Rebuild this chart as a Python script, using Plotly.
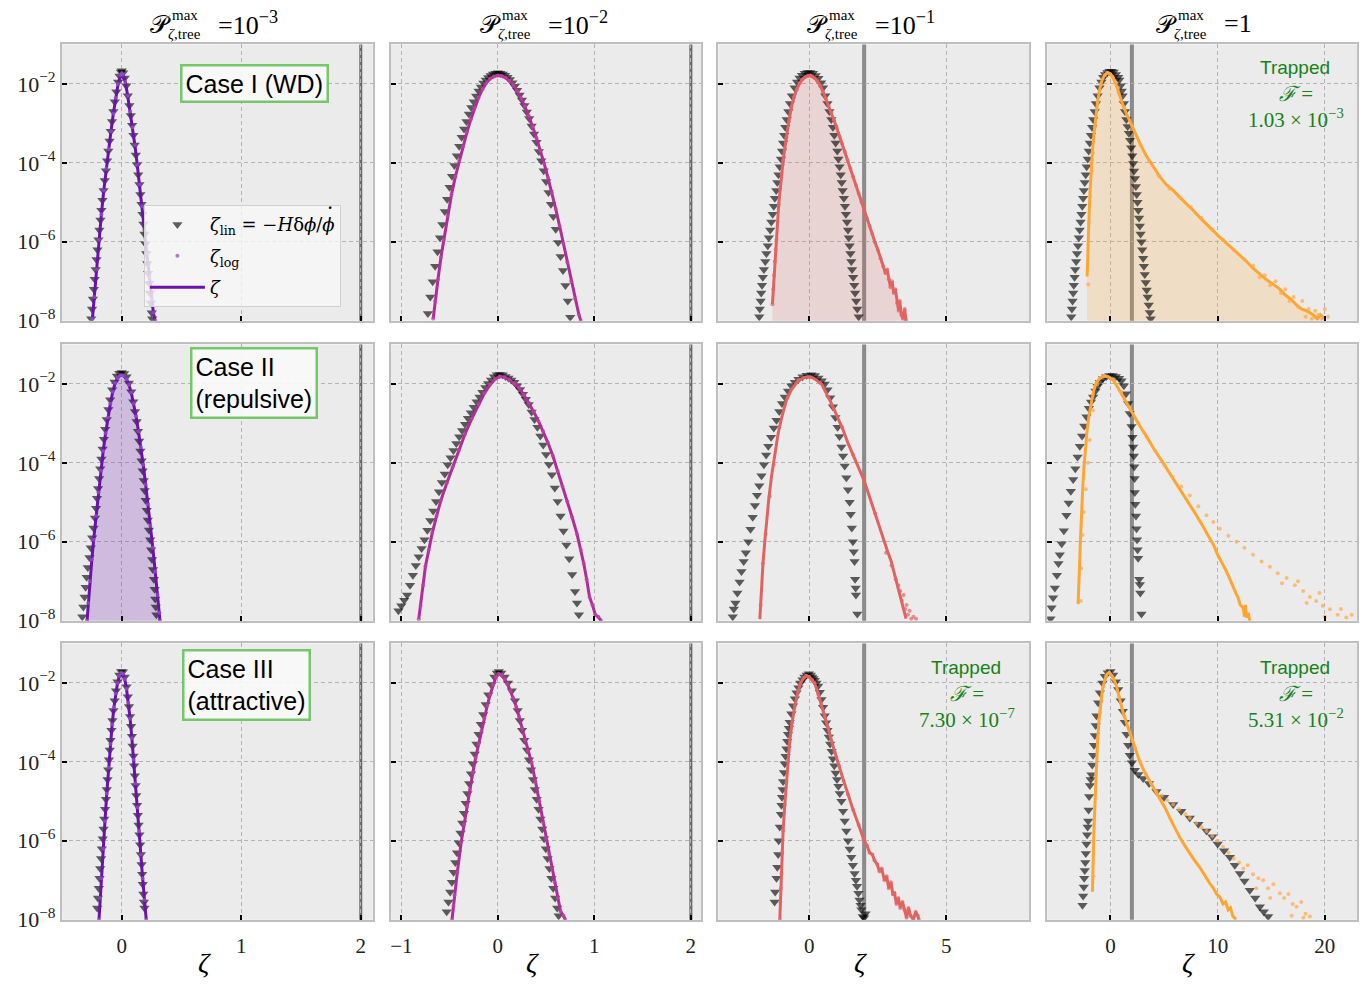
import plotly.graph_objects as go
from plotly.subplots import make_subplots

FIG_W, FIG_H = 1366, 988

# ---------------- axis / label content ----------------
p_tree_labels = ["10<sup>−3</sup>", "10<sup>−2</sup>", "10<sup>−1</sup>", "1"]
zeta_c = 2.0
x_tick_vals = [[0, 1, 2], [-1, 0, 1, 2], [0, 5], [0, 10, 20]]
x_tick_text = [["0", "1", "2"], ["−1", "0", "1", "2"], ["0", "5"], ["0", "10", "20"]]
x_ranges = [[-0.5, 2.1], [-1.11, 2.11], [-3.32, 8.03], [-5.9, 23.0]]
y_tick_vals = [1e-8, 1e-6, 1e-4, 1e-2]
y_tick_text = ["10<sup>−8</sup>", "10<sup>−6</sup>", "10<sup>−4</sup>", "10<sup>−2</sup>"]
case_labels = ["Case I (WD)", "Case II<br>(repulsive)", "Case III<br>(attractive)"]
trapped_fraction = {(1, 4): "1.03 × 10<sup>−3</sup>",
                    (3, 3): "7.30 × 10<sup>−7</sup>",
                    (3, 4): "5.31 × 10<sup>−2</sup>"}
legend_names = {"lin": "<i>ζ</i><sub>lin</sub> = −<i>H</i>δ<i>ϕ</i>/<i>ϕ</i>",
                "log": "<i>ζ</i><sub>log</sub>",
                "zeta": "<i>ζ</i>"}

# ---------------- data: zeta values and log10 of the PDF ----------------
# Row 1 (Case I), column 1
tri_z_r1c1 = [-0.255, -0.248, -0.241, -0.233, -0.226, -0.218, -0.211, -0.203, -0.195, -0.187, -0.178, -0.170, -0.161, -0.152, -0.142, -0.132, -0.122, -0.112, -0.102, -0.092, -0.081, -0.070, -0.058, -0.045, -0.030, -0.018, -0.007, 0.0, 0.012, 0.025, 0.038, 0.051, 0.064, 0.076, 0.087, 0.098, 0.108, 0.118, 0.128, 0.138, 0.148, 0.156, 0.165, 0.174, 0.182, 0.190, 0.198, 0.206, 0.214, 0.221, 0.229, 0.236, 0.244, 0.251, 0.255]
tri_lg_r1c1 = [-7.95, -7.7, -7.45, -7.2, -6.95, -6.7, -6.45, -6.2, -5.95, -5.7, -5.45, -5.2, -4.95, -4.7, -4.45, -4.2, -3.95, -3.7, -3.45, -3.2, -2.95, -2.7, -2.45, -2.2, -1.95, -1.8, -1.7, -1.67, -1.72, -1.85, -2.05, -2.3, -2.55, -2.8, -3.05, -3.3, -3.55, -3.8, -4.05, -4.3, -4.55, -4.8, -5.05, -5.3, -5.55, -5.8, -6.05, -6.3, -6.55, -6.8, -7.05, -7.3, -7.55, -7.8, -7.95]
zeta_z_r1c1 = [-0.245, -0.23, -0.21, -0.19, -0.17, -0.15, -0.13, -0.11, -0.09, -0.07, -0.05, -0.03, -0.01, 0.0, 0.01, 0.03, 0.05, 0.07, 0.09, 0.11, 0.13, 0.15, 0.17, 0.19, 0.21, 0.23, 0.25, 0.265, 0.28]
zeta_lg_r1c1 = [-7.95, -7.4, -6.7, -5.95, -5.3, -4.7, -4.15, -3.65, -3.2, -2.75, -2.35, -2.0, -1.78, -1.73, -1.76, -1.95, -2.3, -2.7, -3.1, -3.55, -4.05, -4.55, -5.1, -5.7, -6.3, -6.9, -7.45, -7.8, -8.0]

# Row 1, column 2
tri_z_r1c2 = [-0.725, -0.7, -0.675, -0.65, -0.625, -0.6, -0.575, -0.55, -0.525, -0.5, -0.475, -0.45, -0.425, -0.4, -0.375, -0.35, -0.325, -0.3, -0.275, -0.25, -0.225, -0.2, -0.175, -0.15, -0.125, -0.1, -0.075, -0.05, -0.025, 0.0,
              0.025, 0.05, 0.075, 0.1, 0.125, 0.15, 0.175, 0.2, 0.225, 0.25, 0.275, 0.3, 0.325, 0.35, 0.375, 0.4, 0.425, 0.45, 0.475, 0.5, 0.525, 0.55, 0.575, 0.6, 0.625, 0.65, 0.675, 0.7, 0.725, 0.75]
tri_lg_r1c2 = [-7.82, -7.40, -7.01, -6.62, -6.25, -5.90, -5.56, -5.23, -4.92, -4.62, -4.34, -4.07, -3.82, -3.58, -3.35, -3.14, -2.95, -2.76, -2.60, -2.45, -2.31, -2.18, -2.08, -1.98, -1.90, -1.84, -1.79, -1.75, -1.73, -1.72,
               -1.73, -1.75, -1.78, -1.83, -1.89, -1.97, -2.06, -2.16, -2.28, -2.41, -2.55, -2.71, -2.88, -3.07, -3.27, -3.48, -3.71, -3.95, -4.20, -4.47, -4.75, -5.05, -5.36, -5.68, -6.02, -6.37, -6.73, -7.11, -7.50, -7.91]
zeta_z_r1c2 = [-0.67, -0.65, -0.62, -0.59, -0.56, -0.52, -0.48, -0.44, -0.40, -0.36, -0.32, -0.28, -0.24, -0.20, -0.16, -0.12, -0.08, -0.04, 0.0, 0.04, 0.08, 0.12, 0.16, 0.20, 0.24, 0.28, 0.32, 0.36, 0.40, 0.44, 0.48, 0.52, 0.56, 0.60, 0.64, 0.68, 0.72, 0.76, 0.80, 0.84, 0.86]
zeta_lg_r1c2 = [-7.95, -7.5, -6.95, -6.4, -5.95, -5.35, -4.8, -4.35, -3.95, -3.58, -3.22, -2.9, -2.6, -2.35, -2.14, -1.98, -1.87, -1.81, -1.79, -1.8, -1.84, -1.92, -2.03, -2.18, -2.36, -2.57, -2.81, -3.08, -3.37, -3.68, -4.02, -4.38, -4.76, -5.17, -5.6, -6.05, -6.52, -7.0, -7.45, -7.85, -8.0]

# Row 1, column 3
tri_z_r1c3 = [-1.83, -1.81, -1.78, -1.76, -1.73, -1.70, -1.66, -1.61, -1.57, -1.52, -1.48, -1.43, -1.39, -1.34, -1.30, -1.26, -1.21, -1.17, -1.13, -1.085, -1.04, -1.0, -0.96, -0.92, -0.88, -0.83, -0.77, -0.71, -0.64, -0.54, -0.45, -0.36, -0.27, -0.17, -0.07, 0.03,
              0.13, 0.23, 0.33, 0.43, 0.5, 0.58, 0.66, 0.73, 0.80, 0.86, 0.91, 0.96, 1.02, 1.06, 1.10, 1.145, 1.18, 1.215, 1.26, 1.30, 1.335, 1.375, 1.41, 1.44, 1.47, 1.50, 1.53, 1.56, 1.60, 1.64, 1.67, 1.71, 1.75, 1.80]
tri_lg_r1c3 = [-7.9, -7.7, -7.5, -7.3, -7.1, -6.9, -6.7, -6.5, -6.3, -6.1, -5.9, -5.7, -5.5, -5.3, -5.1, -4.9, -4.7, -4.5, -4.3, -4.1, -3.9, -3.7, -3.5, -3.3, -3.1, -2.9, -2.7, -2.5, -2.3, -2.1, -1.95, -1.85, -1.78, -1.73, -1.71, -1.71,
               -1.73, -1.79, -1.86, -1.97, -2.1, -2.3, -2.5, -2.7, -2.9, -3.1, -3.3, -3.5, -3.7, -3.9, -4.1, -4.3, -4.5, -4.7, -4.9, -5.1, -5.3, -5.5, -5.7, -5.9, -6.1, -6.3, -6.5, -6.7, -6.9, -7.1, -7.3, -7.5, -7.7, -7.9]
zeta_z_r1c3 = [-1.35, -1.32, -1.29, -1.26, -1.23, -1.20, -1.16, -1.12, -1.07, -1.02, -0.96, -0.90, -0.84, -0.75, -0.66, -0.56, -0.46, -0.36, -0.26, -0.16, -0.06, 0.04, 0.1, 0.2, 0.3, 0.4, 0.5, 0.6, 0.7, 0.8, 0.9, 1.0, 1.1, 1.2, 1.3, 1.4, 1.5, 1.6, 1.7, 1.8, 1.9, 2.0, 2.1, 2.2, 2.3, 2.4, 2.5, 2.6, 2.7, 2.78, 2.84, 2.9, 2.96, 3.02, 3.08, 3.14, 3.2, 3.26, 3.3, 3.36, 3.42, 3.48, 3.53]
zeta_lg_r1c3 = [-7.58, -7.2, -6.85, -6.5, -6.2, -5.95, -5.5, -5.05, -4.65, -4.3, -3.95, -3.65, -3.35, -2.95, -2.6, -2.33, -2.14, -1.99, -1.89, -1.83, -1.8, -1.79, -1.81, -1.86, -1.94, -2.05, -2.2, -2.37, -2.55, -2.72, -2.92, -3.12, -3.33, -3.52, -3.72, -3.93, -4.14, -4.35, -4.56, -4.78, -4.99, -5.2, -5.4, -5.6, -5.8, -6.02, -6.2, -6.42, -6.62, -6.8, -6.7, -6.95, -7.15, -7.0, -7.3, -7.2, -7.55, -7.75, -7.5, -7.85, -7.95, -7.7, -8.0]

# Row 1, column 4
tri_z_r1c4 = [-3.66, -3.6, -3.54, -3.48, -3.42, -3.35, -3.29, -3.2, -3.12, -3.03, -2.95, -2.87, -2.79, -2.71, -2.63, -2.55, -2.48, -2.4, -2.31, -2.22, -2.12, -2.03, -1.93, -1.83, -1.72, -1.61, -1.48, -1.36, -1.2, -1.03, -0.85, -0.68, -0.5, -0.3, -0.1, 0.1,
              0.3, 0.5, 0.72, 0.82, 0.95, 1.05, 1.13, 1.25, 1.36, 1.48, 1.6, 1.72, 1.83, 1.93, 2.03, 2.12, 2.2, 2.28, 2.37, 2.45, 2.52, 2.6, 2.67, 2.74, 2.81, 2.89, 2.96, 3.05, 3.12, 3.2, 3.29, 3.38, 3.47, 3.57, 3.67, 3.75]
tri_lg_r1c4 = [-7.9, -7.7, -7.5, -7.3, -7.1, -6.9, -6.7, -6.5, -6.3, -6.1, -5.9, -5.7, -5.5, -5.3, -5.1, -4.9, -4.7, -4.5, -4.3, -4.1, -3.9, -3.7, -3.5, -3.3, -3.1, -2.9, -2.7, -2.5, -2.3, -2.1, -1.95, -1.83, -1.76, -1.71, -1.68, -1.68,
               -1.7, -1.76, -1.83, -1.9, -2.05, -2.18, -2.3, -2.5, -2.7, -2.9, -3.08, -3.25, -3.43, -3.62, -3.82, -4.02, -4.21, -4.4, -4.6, -4.8, -5.0, -5.2, -5.4, -5.6, -5.8, -6.0, -6.2, -6.42, -6.62, -6.83, -7.03, -7.22, -7.4, -7.6, -7.79, -7.95]
zeta_z_r1c4 = [-2.18, -2.15, -2.1, -2.05, -1.98, -1.9, -1.8, -1.68, -1.55, -1.4, -1.25, -1.05, -0.84, -0.6, -0.31, 0.0, 0.25, 0.5, 0.87, 1.2, 1.49, 2.02, 2.4, 2.74, 3.3, 3.98, 4.6, 5.2, 5.85, 6.5, 7.1, 7.71, 8.4, 9.2, 10.0, 10.7, 11.4, 12.07, 12.7, 13.3, 13.93, 14.5, 15.2, 15.8, 16.3, 16.8, 17.36, 17.8, 18.3, 18.9, 19.3, 19.6, 20.0]
zeta_lg_r1c4 = [-6.88, -6.5, -6.1, -5.7, -5.2, -4.7, -4.2, -3.7, -3.3, -2.9, -2.55, -2.2, -1.95, -1.8, -1.71, -1.74, -1.85, -2.0, -2.33, -2.57, -2.75, -3.08, -3.3, -3.5, -3.8, -4.08, -4.35, -4.55, -4.7, -4.88, -5.03, -5.2, -5.4, -5.62, -5.83, -6.0, -6.17, -6.33, -6.5, -6.67, -6.83, -6.95, -7.08, -7.2, -7.35, -7.45, -7.6, -7.7, -7.75, -7.85, -7.95, -7.85, -7.95]
log_z_r1c4 = [-2.08, -2.0, -1.9, -1.75, -1.62, -1.45, -1.2, -0.9, -0.5, -0.2, 0.2, 0.7, 1.3, 2.0, 2.8, 3.6, 4.5, 5.5, 6.5, 7.5, 8.5, 9.5, 10.5, 11.5, 12.5, 13.3, 13.9, 14.4, 14.9, 15.4, 15.9, 16.3, 16.7, 17.1, 17.5, 17.9, 18.2, 18.5, 18.8, 19.1, 19.4, 19.7, 20.0, 20.3]
log_lg_r1c4 = [-7.08, -5.5, -4.85, -4.2, -3.75, -3.1, -2.45, -2.0, -1.78, -1.73, -1.82, -2.1, -2.6, -3.05, -3.55, -3.95, -4.33, -4.65, -4.88, -5.12, -5.4, -5.68, -5.95, -6.2, -6.45, -6.6, -6.9, -6.85, -7.1, -7.0, -7.3, -7.2, -7.5, -7.4, -7.65, -7.5, -7.9, -7.7, -7.95, -7.75, -7.85, -7.95, -7.7, -7.9]

# Row 2 (Case II), column 1
tri_z_r2c1 = [-0.330, -0.321, -0.311, -0.302, -0.293, -0.284, -0.270, -0.259, -0.247, -0.236, -0.224, -0.215, -0.207, -0.198, -0.189, -0.180, -0.170, -0.160, -0.149, -0.138, -0.125, -0.112, -0.097, -0.080, -0.060, -0.040, -0.020, 0.0,
              0.02, 0.04, 0.06, 0.08, 0.097, 0.111, 0.125, 0.136, 0.146, 0.156, 0.166, 0.175, 0.184, 0.192, 0.200, 0.209, 0.218, 0.228, 0.238, 0.246, 0.254, 0.261, 0.269, 0.275, 0.280, 0.285, 0.290]
tri_lg_r2c1 = [-7.9, -7.65, -7.4, -7.15, -6.9, -6.65, -6.4, -6.15, -5.9, -5.65, -5.4, -5.15, -4.9, -4.65, -4.4, -4.15, -3.9, -3.65, -3.4, -3.15, -2.9, -2.65, -2.4, -2.15, -1.95, -1.8, -1.73, -1.71,
               -1.74, -1.82, -1.98, -2.2, -2.45, -2.7, -2.95, -3.2, -3.45, -3.7, -3.95, -4.2, -4.45, -4.7, -4.95, -5.2, -5.45, -5.7, -5.95, -6.2, -6.45, -6.7, -6.95, -7.2, -7.45, -7.65, -7.85]
zeta_z_r2c1 = [-0.29, -0.28, -0.265, -0.25, -0.235, -0.215, -0.195, -0.175, -0.155, -0.135, -0.115, -0.095, -0.075, -0.055, -0.035, -0.015, 0.0, 0.02, 0.04, 0.06, 0.08, 0.10, 0.12, 0.14, 0.16, 0.18, 0.20, 0.22, 0.24, 0.26, 0.28, 0.30, 0.315, 0.32]
zeta_lg_r2c1 = [-8.0, -7.55, -7.0, -6.45, -5.95, -5.35, -4.75, -4.2, -3.7, -3.25, -2.85, -2.5, -2.2, -1.98, -1.85, -1.79, -1.78, -1.8, -1.88, -2.02, -2.22, -2.5, -2.82, -3.2, -3.6, -4.05, -4.55, -5.05, -5.6, -6.15, -6.75, -7.35, -7.8, -8.0]

# Row 2, column 2
tri_z_r2c2 = [-1.03, -1.0, -0.97, -0.94, -0.91, -0.88, -0.85, -0.82, -0.79, -0.76, -0.73, -0.70, -0.67, -0.64, -0.61, -0.58, -0.55, -0.52, -0.49, -0.46, -0.43, -0.40, -0.37, -0.34, -0.31, -0.28, -0.25, -0.22, -0.19, -0.16, -0.13, -0.10, -0.07, -0.04, -0.01,
              0.02, 0.05, 0.08, 0.11, 0.14, 0.17, 0.20, 0.23, 0.26, 0.29, 0.32, 0.35, 0.38, 0.41, 0.44, 0.47, 0.50, 0.53, 0.56, 0.59, 0.62, 0.65, 0.68, 0.71, 0.74, 0.77, 0.80, 0.82, 0.84]
tri_lg_r2c2 = [-7.75, -7.62, -7.48, -7.35, -7.1, -6.85, -6.6, -6.38, -6.17, -5.95, -5.71, -5.46, -5.22, -4.98, -4.73, -4.5, -4.28, -4.05, -3.87, -3.69, -3.51, -3.34, -3.18, -3.02, -2.87, -2.73, -2.59, -2.45, -2.33, -2.21, -2.09, -1.99, -1.9, -1.82, -1.77,
               -1.76, -1.77, -1.81, -1.85, -1.9, -1.96, -2.05, -2.14, -2.26, -2.39, -2.52, -2.71, -2.9, -3.1, -3.32, -3.55, -3.79, -4.04, -4.3, -4.64, -4.98, -5.35, -5.73, -6.08, -6.43, -6.83, -7.26, -7.55, -7.85]
zeta_z_r2c2 = [-0.82, -0.80, -0.775, -0.75, -0.715, -0.68, -0.635, -0.59, -0.53, -0.47, -0.405, -0.34, -0.27, -0.20, -0.14, -0.08, -0.03, 0.02, 0.07, 0.12, 0.17, 0.22, 0.27, 0.32, 0.37, 0.42, 0.47, 0.52, 0.57, 0.62, 0.67, 0.72, 0.77, 0.82, 0.86, 0.89, 0.92, 0.95, 0.98, 1.01, 1.04, 1.07]
zeta_lg_r2c2 = [-7.96, -7.62, -7.1, -6.62, -6.2, -5.78, -5.35, -4.95, -4.52, -4.11, -3.68, -3.27, -2.88, -2.52, -2.24, -2.02, -1.88, -1.81, -1.83, -1.9, -1.99, -2.1, -2.28, -2.48, -2.7, -2.94, -3.2, -3.5, -3.82, -4.2, -4.6, -4.98, -5.38, -5.8, -6.2, -6.55, -6.95, -7.4, -7.6, -7.85, -7.9, -8.0]

# Row 2, column 3
tri_z_r2c3 = [-2.8, -2.76, -2.7, -2.63, -2.55, -2.48, -2.4, -2.32, -2.23, -2.15, -2.07, -1.99, -1.91, -1.83, -1.75, -1.66, -1.58, -1.5, -1.4, -1.3, -1.2, -1.1, -1.0, -0.9, -0.78, -0.66, -0.53, -0.4, -0.25, -0.1, 0.07, 0.2, 0.33, 0.45, 0.56, 0.66, 0.76, 0.86, 0.95, 1.03, 1.1, 1.17, 1.23, 1.29, 1.35, 1.41, 1.47, 1.51, 1.55, 1.59, 1.62, 1.65, 1.67, 1.69, 1.7, 1.75]
tri_lg_r2c3 = [-7.9, -7.7, -7.55, -7.3, -7.02, -6.75, -6.5, -6.28, -6.0, -5.68, -5.38, -5.08, -4.82, -4.58, -4.33, -4.05, -3.8, -3.58, -3.35, -3.12, -2.92, -2.7, -2.5, -2.33, -2.18, -2.05, -1.96, -1.88, -1.82, -1.78, -1.77, -1.79, -1.85, -1.92, -2.0, -2.15, -2.35, -2.58, -2.85, -3.1, -3.33, -3.6, -3.83, -4.08, -4.38, -4.68, -5.0, -5.3, -5.65, -6.0, -6.25, -6.5, -6.95, -7.17, -7.35, -7.83]
zeta_z_r2c3 = [-1.81, -1.79, -1.77, -1.73, -1.69, -1.63, -1.57, -1.48, -1.38, -1.26, -1.14, -1.0, -0.84, -0.66, -0.41, -0.2, -0.05, 0.1, 0.25, 0.44, 0.6, 0.76, 0.92, 1.08, 1.25, 1.41, 1.6, 1.8, 1.98, 2.12, 2.25, 2.38, 2.5, 2.62, 2.74, 2.86, 2.99, 3.1, 3.23, 3.3, 3.36, 3.41, 3.45, 3.5, 3.53]
zeta_lg_r2c3 = [-7.96, -7.7, -7.42, -6.95, -6.5, -6.0, -5.5, -4.9, -4.33, -3.75, -3.25, -2.82, -2.42, -2.15, -1.92, -1.84, -1.82, -1.84, -1.9, -2.0, -2.2, -2.43, -2.67, -2.92, -3.2, -3.5, -3.8, -4.12, -4.42, -4.7, -4.98, -5.25, -5.5, -5.75, -6.0, -6.25, -6.5, -6.8, -7.08, -7.3, -7.45, -7.58, -7.75, -7.85, -7.95]
log_z_r2c3 = [-1.78, -1.7, -1.6, -1.45, -1.3, -1.1, -0.8, -0.4, 0.0, 0.4, 0.8, 1.2, 1.6, 2.0, 2.4, 2.8, 3.0, 3.15, 3.25, 3.32, 3.38, 3.44, 3.5, 3.55, 3.6, 3.66, 3.72, 3.8, 3.9]
log_lg_r2c3 = [-7.6, -6.55, -5.8, -4.85, -4.05, -3.1, -2.35, -1.9, -1.83, -1.98, -2.52, -3.1, -3.8, -4.45, -5.28, -6.28, -6.6, -6.95, -7.1, -7.25, -7.5, -7.35, -7.7, -7.6, -7.85, -7.75, -7.95, -7.9, -7.95]

# Row 2, column 4
tri_z_r2c4 = [-5.6, -5.5, -5.35, -5.19, -5.0, -4.85, -4.73, -4.55, -4.35, -4.11, -3.9, -3.7, -3.48, -3.28, -3.07, -2.86, -2.65, -2.45, -2.24, -2.02, -1.82, -1.62, -1.4, -1.2, -0.99, -0.7, -0.4, -0.1, 0.2, 0.5, 0.8, 1.03, 1.25, 1.45, 1.65, 1.8, 1.96, 2.05, 2.12, 2.18, 2.22, 2.25, 2.27, 2.32, 2.38, 2.43, 2.48, 2.53, 2.58, 2.68, 2.74, 2.78, 2.89]
tri_lg_r2c4 = [-7.95, -7.67, -7.42, -7.17, -6.85, -6.55, -6.33, -6.05, -5.72, -5.33, -5.02, -4.72, -4.42, -4.15, -3.85, -3.58, -3.32, -3.07, -2.83, -2.62, -2.46, -2.33, -2.18, -2.06, -1.96, -1.87, -1.82, -1.79, -1.79, -1.81, -1.86, -1.92, -2.05, -2.25, -2.5, -2.75, -3.08, -3.35, -3.6, -3.83, -4.1, -4.4, -4.75, -5.05, -5.35, -5.67, -5.95, -6.2, -6.42, -6.95, -7.08, -7.3, -7.83]
zeta_z_r2c4 = [-3.02, -2.98, -2.93, -2.86, -2.8, -2.71, -2.6, -2.49, -2.35, -2.18, -2.0, -1.77, -1.55, -1.31, -1.0, -0.75, -0.53, -0.2, 0.25, 0.7, 1.18, 1.6, 2.02, 2.7, 3.36, 4.1, 4.91, 5.7, 6.47, 7.25, 8.02, 8.65, 9.27, 9.65, 10.0, 10.4, 10.82, 11.15, 11.45, 11.7, 11.91, 12.1, 12.38, 12.5, 12.6, 12.69, 12.85, 13.0]
zeta_lg_r2c4 = [-7.58, -7.1, -6.8, -6.42, -5.95, -5.25, -4.7, -4.17, -3.65, -3.17, -2.8, -2.42, -2.15, -1.96, -1.86, -1.82, -1.81, -1.82, -1.9, -2.1, -2.33, -2.55, -2.75, -3.05, -3.33, -3.67, -4.0, -4.33, -4.67, -5.0, -5.33, -5.62, -5.92, -6.1, -6.33, -6.52, -6.75, -6.95, -7.17, -7.3, -7.42, -7.6, -7.67, -7.9, -7.6, -7.92, -7.8, -8.0]
log_z_r2c4 = [-2.77, -2.74, -2.61, -2.49, -2.3, -2.1, -1.93, -1.62, -1.2, -0.5, 0.3, 1.0, 1.8, 2.6, 3.4, 4.2, 5.0, 5.8, 6.6, 7.4, 8.2, 8.96, 9.6, 10.2, 11.0, 11.76, 12.5, 13.3, 14.1, 14.87, 15.6, 16.0, 16.43, 17.2, 17.5, 17.98, 18.3, 18.6, 19.2, 19.5, 19.8, 20.0, 20.47, 21.2, 21.5, 22.0, 22.5]
log_lg_r2c4 = [-7.5, -6.67, -5.83, -5.25, -4.67, -4.0, -3.42, -2.67, -2.0, -1.8, -1.88, -2.2, -2.6, -3.0, -3.35, -3.7, -4.05, -4.35, -4.6, -4.83, -5.1, -5.33, -5.5, -5.67, -5.85, -6.0, -6.15, -6.33, -6.5, -6.63, -6.8, -7.05, -6.92, -7.1, -7.0, -7.25, -7.55, -7.4, -7.5, -7.3, -7.62, -7.9, -7.71, -7.85, -7.7, -7.92, -7.85]

# Row 3 (Case III), column 1
tri_z_r3c1 = [-0.205, -0.199, -0.192, -0.186, -0.180, -0.173, -0.166, -0.159, -0.152, -0.146, -0.139, -0.132, -0.125, -0.119, -0.113, -0.107, -0.100, -0.094, -0.086, -0.078, -0.069, -0.059, -0.048, -0.035, -0.02, -0.005,
              0.01, 0.025, 0.04, 0.051, 0.061, 0.07, 0.078, 0.085, 0.091, 0.098, 0.104, 0.110, 0.116, 0.122, 0.129, 0.135, 0.141, 0.148, 0.154, 0.160, 0.166, 0.171, 0.176, 0.181, 0.186, 0.19]
tri_lg_r3c1 = [-7.7, -7.45, -7.2, -6.95, -6.7, -6.45, -6.2, -5.95, -5.7, -5.45, -5.2, -4.95, -4.7, -4.45, -4.2, -3.95, -3.7, -3.45, -3.2, -2.95, -2.7, -2.45, -2.2, -1.97, -1.8, -1.71,
               -1.72, -1.85, -2.1, -2.35, -2.6, -2.85, -3.1, -3.35, -3.6, -3.85, -4.1, -4.35, -4.6, -4.85, -5.1, -5.35, -5.6, -5.85, -6.1, -6.35, -6.6, -6.85, -7.1, -7.35, -7.55, -7.7]
zeta_z_r3c1 = [-0.19, -0.18, -0.17, -0.155, -0.14, -0.125, -0.11, -0.095, -0.08, -0.065, -0.05, -0.035, -0.02, -0.005, 0.01, 0.025, 0.04, 0.055, 0.07, 0.085, 0.10, 0.115, 0.13, 0.145, 0.16, 0.175, 0.19, 0.205]
zeta_lg_r3c1 = [-8.0, -7.45, -6.95, -6.2, -5.5, -4.8, -4.15, -3.55, -3.05, -2.62, -2.27, -2.0, -1.82, -1.75, -1.77, -1.9, -2.15, -2.5, -2.9, -3.4, -3.95, -4.55, -5.15, -5.75, -6.35, -6.95, -7.5, -8.0]

# Row 3, column 2
tri_z_r3c2 = [-0.53, -0.512, -0.494, -0.476, -0.459, -0.441, -0.423, -0.405, -0.387, -0.369, -0.351, -0.333, -0.315, -0.297, -0.279, -0.26, -0.240, -0.221, -0.2, -0.177, -0.152, -0.126, -0.099, -0.068, -0.036, -0.01, 0.01,
              0.035, 0.07, 0.105, 0.145, 0.178, 0.205, 0.228, 0.251, 0.274, 0.302, 0.323, 0.344, 0.364, 0.383, 0.403, 0.422, 0.441, 0.46, 0.479, 0.497, 0.515, 0.535, 0.554, 0.574, 0.594, 0.615, 0.63]
tri_lg_r3c2 = [-7.8, -7.55, -7.3, -7.05, -6.8, -6.55, -6.3, -6.05, -5.8, -5.55, -5.3, -5.05, -4.8, -4.55, -4.3, -4.05, -3.8, -3.55, -3.3, -3.05, -2.8, -2.55, -2.3, -2.05, -1.85, -1.75, -1.71,
               -1.75, -1.85, -2.0, -2.2, -2.45, -2.7, -2.95, -3.2, -3.45, -3.7, -3.95, -4.2, -4.45, -4.7, -4.95, -5.2, -5.45, -5.7, -5.95, -6.2, -6.45, -6.7, -6.95, -7.2, -7.45, -7.7, -7.9]
zeta_z_r3c2 = [-0.475, -0.46, -0.45, -0.42, -0.38, -0.35, -0.32, -0.29, -0.26, -0.23, -0.20, -0.17, -0.14, -0.11, -0.08, -0.05, -0.02, 0.01, 0.04, 0.07, 0.10, 0.13, 0.16, 0.19, 0.22, 0.25, 0.28, 0.31, 0.35, 0.39, 0.43, 0.47, 0.50, 0.53, 0.56, 0.59, 0.62, 0.65, 0.68, 0.70]
zeta_lg_r3c2 = [-8.0, -7.65, -7.38, -6.8, -6.04, -5.58, -5.12, -4.7, -4.28, -3.9, -3.55, -3.22, -2.9, -2.58, -2.3, -2.05, -1.85, -1.77, -1.8, -1.9, -2.03, -2.2, -2.38, -2.6, -2.86, -3.14, -3.44, -3.72, -4.03, -4.5, -5.0, -5.54, -5.95, -6.33, -6.71, -7.05, -7.45, -7.79, -7.9, -8.0]

# Row 3, column 3
tri_z_r3c3 = [-1.27, -1.25, -1.2, -1.17, -1.14, -1.12, -1.08, -1.04, -1.02, -1.0, -0.98, -0.96, -0.93, -0.9, -0.87, -0.84, -0.81, -0.78, -0.75, -0.72, -0.66, -0.6, -0.53, -0.47, -0.4, -0.33, -0.25, -0.18, -0.1, -0.02,
              0.05, 0.1, 0.15, 0.2, 0.26, 0.32, 0.38, 0.44, 0.5, 0.56, 0.61, 0.66, 0.71, 0.76, 0.81, 0.86, 0.91, 0.96, 1.01, 1.06, 1.11, 1.17, 1.23, 1.29, 1.35, 1.41, 1.47, 1.53, 1.59, 1.65, 1.7, 1.74, 1.79, 1.83, 1.87, 1.9, 1.95, 2.0, 2.05]
tri_lg_r3c3 = [-7.55, -7.3, -6.95, -6.67, -6.35, -6.0, -5.65, -5.33, -5.1, -4.9, -4.7, -4.5, -4.27, -4.05, -3.86, -3.67, -3.48, -3.3, -3.15, -3.0, -2.78, -2.58, -2.4, -2.25, -2.12, -2.0, -1.92, -1.85, -1.8, -1.77,
               -1.8, -1.85, -1.89, -1.93, -2.0, -2.08, -2.24, -2.42, -2.62, -2.83, -3.01, -3.2, -3.37, -3.55, -3.73, -3.92, -4.1, -4.28, -4.45, -4.62, -4.8, -5.0, -5.25, -5.5, -5.75, -6.0, -6.21, -6.42, -6.62, -6.83, -7.0, -7.15, -7.33, -7.5, -7.63, -7.75, -7.92, -7.95, -7.85]
zeta_z_r3c3 = [-1.08, -1.06, -1.04, -1.02, -0.99, -0.96, -0.9, -0.84, -0.78, -0.72, -0.63, -0.53, -0.42, -0.32, -0.2, -0.11, 0.0, 0.1, 0.19, 0.32, 0.44, 0.56, 0.68, 0.8, 0.92, 1.08, 1.25, 1.41, 1.6, 1.8, 1.98, 2.1, 2.2, 2.3, 2.38, 2.48, 2.56, 2.64, 2.74, 2.82, 2.9, 2.98, 3.05, 3.11, 3.18, 3.25, 3.32, 3.4, 3.47, 3.55, 3.62, 3.7, 3.8, 3.88, 3.96, 4.0]
zeta_lg_r3c3 = [-8.0, -7.55, -7.2, -6.83, -6.3, -5.75, -5.1, -4.5, -3.98, -3.5, -3.0, -2.58, -2.25, -2.0, -1.87, -1.82, -1.85, -1.92, -2.0, -2.28, -2.55, -2.83, -3.13, -3.45, -3.75, -4.1, -4.48, -4.83, -5.22, -5.6, -5.96, -6.12, -6.3, -6.35, -6.5, -6.6, -6.78, -6.7, -7.0, -6.9, -7.2, -7.05, -7.35, -7.33, -7.6, -7.45, -7.7, -7.55, -7.75, -7.95, -7.7, -7.9, -8.0, -7.8, -7.9, -8.0]

# Row 3, column 4
tri_z_r3c4 = [-2.61, -2.55, -2.49, -2.45, -2.4, -2.35, -2.3, -2.24, -2.18, -2.13, -2.08, -2.04, -1.99, -1.92, -1.85, -1.77, -1.7, -1.62, -1.54, -1.46, -1.38, -1.31, -1.15, -0.99, -0.75, -0.53, -0.25, 0.0, 0.25, 0.5, 0.72, 0.95, 1.15, 1.34, 1.5, 1.65, 1.8, 2.0, 2.27, 2.6, 3.05, 3.6, 4.29, 5.0, 5.85, 6.6, 7.4, 8.2, 8.96, 9.5, 10.0, 10.6, 11.14, 11.6, 12.07, 12.5, 13.0, 13.5, 13.93, 14.3, 14.71]
tri_lg_r3c4 = [-7.63, -7.4, -7.17, -6.95, -6.75, -6.55, -6.32, -6.08, -5.85, -5.65, -5.5, -5.22, -4.88, -4.6, -4.45, -4.33, -4.08, -3.83, -3.58, -3.33, -3.08, -2.83, -2.5, -2.25, -2.0, -1.83, -1.74, -1.71, -1.8, -1.97, -2.17, -2.45, -2.72, -3.0, -3.3, -3.58, -3.83, -4.02, -4.21, -4.32, -4.42, -4.55, -4.75, -4.9, -5.08, -5.25, -5.42, -5.58, -5.75, -5.9, -6.08, -6.25, -6.42, -6.62, -6.83, -7.02, -7.25, -7.45, -7.67, -7.8, -7.92]
zeta_z_r3c4 = [-1.68, -1.66, -1.62, -1.55, -1.46, -1.38, -1.31, -1.2, -1.06, -0.92, -0.75, -0.5, -0.3, -0.12, 0.1, 0.3, 0.56, 0.85, 1.18, 1.6, 2.02, 2.4, 2.74, 3.2, 3.67, 4.1, 4.6, 5.1, 5.54, 6.0, 6.47, 6.95, 7.4, 7.85, 8.33, 8.8, 9.27, 9.6, 9.9, 10.2, 10.5, 10.75, 10.98, 11.2, 11.4, 11.6, 11.7]
zeta_lg_r3c4 = [-7.29, -6.9, -6.42, -5.8, -5.17, -4.55, -4.0, -3.45, -2.92, -2.52, -2.17, -1.9, -1.77, -1.73, -1.8, -1.9, -2.08, -2.4, -2.75, -3.1, -3.42, -3.72, -4.0, -4.27, -4.5, -4.7, -4.92, -5.17, -5.42, -5.67, -5.92, -6.13, -6.33, -6.5, -6.67, -6.88, -7.08, -7.2, -7.35, -7.42, -7.6, -7.55, -7.75, -7.7, -7.9, -7.96, -8.0]
log_z_r3c4 = [-1.6, -1.5, -1.35, -1.2, -1.0, -0.7, -0.4, -0.12, 0.3, 0.8, 1.3, 1.8, 2.3, 2.8, 3.3, 3.8, 4.29, 4.8, 5.3, 5.85, 6.4, 7.0, 7.4, 8.0, 8.5, 8.96, 9.5, 10.0, 10.5, 11.0, 11.5, 12.0, 12.4, 12.8, 13.3, 13.6, 13.8, 14.25, 14.7, 14.9, 15.2, 15.8, 16.2, 16.6, 16.9, 17.0, 17.36, 17.8, 18.0, 18.2, 18.6]
log_lg_r3c4 = [-6.9, -5.5, -4.3, -3.4, -2.75, -2.1, -1.82, -1.74, -1.9, -2.35, -2.85, -3.25, -3.65, -4.0, -4.3, -4.55, -4.75, -4.85, -4.97, -5.08, -5.2, -5.33, -5.42, -5.55, -5.66, -5.75, -5.88, -6.0, -6.15, -6.3, -6.45, -6.55, -6.7, -6.62, -6.85, -7.2, -6.95, -7.0, -7.2, -7.45, -7.1, -7.33, -7.45, -7.35, -7.9, -7.6, -7.67, -7.55, -7.95, -7.85, -7.92]

# ---------------- styles ----------------
col_colors = ["#6c10b0", "#b42a98", "#e26262", "#ffa530"]
col_dot_colors = ["rgba(150,80,200,0.75)", "rgba(190,70,160,0.7)", "rgba(230,100,100,0.7)", "rgba(255,170,70,0.7)"]
col_fill_colors = ["rgba(108,16,176,0.22)", "rgba(180,42,152,0.2)", "rgba(226,98,98,0.17)", "rgba(255,165,48,0.2)"]
filled_panels = {(1, 3), (1, 4), (2, 1)}
SERIF = "Liberation Serif"
SANS = "Liberation Sans"
GREEN = "#178217"

panels = {
    (1, 1): (tri_z_r1c1, tri_lg_r1c1, zeta_z_r1c1, zeta_lg_r1c1, zeta_z_r1c1, zeta_lg_r1c1),
    (1, 2): (tri_z_r1c2, tri_lg_r1c2, zeta_z_r1c2, zeta_lg_r1c2, zeta_z_r1c2, zeta_lg_r1c2),
    (1, 3): (tri_z_r1c3, tri_lg_r1c3, zeta_z_r1c3, zeta_lg_r1c3, zeta_z_r1c3, zeta_lg_r1c3),
    (1, 4): (tri_z_r1c4, tri_lg_r1c4, zeta_z_r1c4, zeta_lg_r1c4, log_z_r1c4, log_lg_r1c4),
    (2, 1): (tri_z_r2c1, tri_lg_r2c1, zeta_z_r2c1, zeta_lg_r2c1, zeta_z_r2c1, zeta_lg_r2c1),
    (2, 2): (tri_z_r2c2, tri_lg_r2c2, zeta_z_r2c2, zeta_lg_r2c2, zeta_z_r2c2, zeta_lg_r2c2),
    (2, 3): (tri_z_r2c3, tri_lg_r2c3, zeta_z_r2c3, zeta_lg_r2c3, log_z_r2c3, log_lg_r2c3),
    (2, 4): (tri_z_r2c4, tri_lg_r2c4, zeta_z_r2c4, zeta_lg_r2c4, log_z_r2c4, log_lg_r2c4),
    (3, 1): (tri_z_r3c1, tri_lg_r3c1, zeta_z_r3c1, zeta_lg_r3c1, zeta_z_r3c1, zeta_lg_r3c1),
    (3, 2): (tri_z_r3c2, tri_lg_r3c2, zeta_z_r3c2, zeta_lg_r3c2, zeta_z_r3c2, zeta_lg_r3c2),
    (3, 3): (tri_z_r3c3, tri_lg_r3c3, zeta_z_r3c3, zeta_lg_r3c3, zeta_z_r3c3, zeta_lg_r3c3),
    (3, 4): (tri_z_r3c4, tri_lg_r3c4, zeta_z_r3c4, zeta_lg_r3c4, log_z_r3c4, log_lg_r3c4),
}


def pdf(lg):
    return [10 ** v for v in lg]


# pixel layout of the panels
col_px = [(61, 372), (390, 701), (718, 1029), (1047, 1357)]
row_px = [(45, 325), (349, 629), (652, 932)]


def px(x):
    return x / FIG_W


def py(y):
    return 1 - y / FIG_H


fig = make_subplots(rows=3, cols=4)

for (r, c), (tz, tl, zz, zl, lz, ll) in panels.items():
    assert len(tz) == len(tl) and len(zz) == len(zl) and len(lz) == len(ll), (r, c)
    first = (r, c) == (1, 1)
    color = col_colors[c - 1]
    if (r, c) in filled_panels:
        fig.add_trace(go.Scatter(x=zz, y=pdf(zl), mode="lines", line=dict(width=0),
                                 fill="tozeroy", fillcolor=col_fill_colors[c - 1],
                                 showlegend=False, hoverinfo="skip"), row=r, col=c)
    fig.add_trace(go.Scatter(x=tz, y=pdf(tl), mode="markers",
                             marker=dict(symbol="triangle-down", size=9, color="rgba(0,0,0,0.62)",
                                         line=dict(width=0)),
                             name=legend_names["lin"], legendgroup="lin",
                             legendrank=1, showlegend=first), row=r, col=c)
    fig.add_trace(go.Scatter(x=zz, y=pdf(zl), mode="lines", line=dict(color=color, width=3),
                             name=legend_names["zeta"], legendgroup="zeta",
                             legendrank=3, showlegend=first), row=r, col=c)
    fig.add_trace(go.Scatter(x=lz, y=pdf(ll), mode="markers",
                             marker=dict(size=4, color=col_dot_colors[c - 1]),
                             name=legend_names["log"], legendgroup="log",
                             legendrank=2, showlegend=first),
                  row=r, col=c)
    # critical value line
    fig.add_vline(x=zeta_c, line=dict(color="#8a8a8a" if c > 2 else "#6a6a6a", width=4 if c > 2 else 3),
                  layer="below", row=r, col=c)

axis_common = dict(showgrid=True, gridcolor="#b3b3b3", griddash="4px,3px", gridwidth=1,
                   zeroline=False, showline=True, linecolor="#bfbfbf", linewidth=2, mirror=True,
                   ticks="inside", ticklen=5, tickwidth=1.5, tickcolor="black")

for r in range(1, 4):
    for c in range(1, 5):
        idx = (r - 1) * 4 + c
        sfx = "" if idx == 1 else str(idx)
        x0, x1 = col_px[c - 1]
        y0, y1 = row_px[r - 1]
        fig.layout["xaxis" + sfx].update(domain=[px(x0), px(x1)], range=x_ranges[c - 1],
                                         tickvals=x_tick_vals[c - 1], ticktext=x_tick_text[c - 1],
                                         showticklabels=(r == 3), ticklabelstandoff=6,
                                         tickfont=dict(family=SERIF, size=21, color="#222"),
                                         **axis_common)
        fig.layout["yaxis" + sfx].update(domain=[py(y1), py(y0)], type="log", range=[-8, -1],
                                         tickvals=y_tick_vals, ticktext=y_tick_text,
                                         showticklabels=(c == 1),
                                         tickfont=dict(family=SERIF, size=22, color="#222"),
                                         **axis_common)

ann = []
# column titles: P^max_{zeta,tree} = ...
title_left = [147, 477, 805, 1154]
for c in range(4):
    L = title_left[c]
    ann.append(dict(x=px(L), y=py(25), text="𝒫", xanchor="left", yanchor="middle",
                    font=dict(family="DejaVu Serif", size=25, color="black")))
    ann.append(dict(x=px(L + 22), y=py(15), text="max", xanchor="left", yanchor="middle",
                    font=dict(family=SERIF, size=15, color="black")))
    ann.append(dict(x=px(L + 18), y=py(34), text="<i>ζ</i>,tree", xanchor="left", yanchor="middle",
                    font=dict(family=SERIF, size=15, color="black")))
    ann.append(dict(x=px(L + 68), y=py(24), text="=" + p_tree_labels[c], xanchor="left",
                    yanchor="middle", font=dict(family=SERIF, size=26, color="black")))
    # x axis label
    ann.append(dict(x=px([204, 532, 860, 1188][c]), y=py(975), text="<i>ζ</i>", xanchor="center",
                    yanchor="middle", font=dict(family=SERIF, size=28, color="black")))

# time-derivative dot over the last phi of the first legend entry
ann.append(dict(x=px(329), y=py(211), text="·", xanchor="center", yanchor="middle",
                font=dict(family="DejaVu Serif", size=20, color="black")))

# case boxes
case_pos = [(254, 85), (253, 388), (246, 694)]
for i, (cx, cy) in enumerate(case_pos):
    ann.append(dict(x=px(cx), y=py(cy), text=case_labels[i], xanchor="center", yanchor="middle",
                    align="left", showarrow=False, bgcolor="rgba(248,248,248,0.92)",
                    bordercolor="#74c86a", borderwidth=2.5, borderpad=3,
                    font=dict(family=SANS, size=25, color="black")))

# trapped fractions
trap_cx = {3: 966, 4: 1295}
trap_top = {1: 68, 3: 676}
for (r, c), frac in trapped_fraction.items():
    cx = trap_cx[c]
    ty = trap_top[r]
    ann.append(dict(x=px(cx), y=py(ty), text="Trapped", xanchor="center", yanchor="middle",
                    font=dict(family=SANS, size=19, color=GREEN)))
    ann.append(dict(x=px(cx + 1), y=py(ty + 27), text="<i>ℱ</i> =", xanchor="center", yanchor="middle",
                    font=dict(family=SERIF, size=21, color=GREEN)))
    ann.append(dict(x=px(cx + 1), y=py(ty + 52), text=frac, xanchor="center", yanchor="middle",
                    font=dict(family=SERIF, size=21, color=GREEN)))

for a in ann:
    a.setdefault("showarrow", False)
    a["xref"] = "paper"
    a["yref"] = "paper"

fig.update_layout(
    width=FIG_W, height=FIG_H, autosize=False,
    margin=dict(l=0, r=0, t=0, b=0),
    paper_bgcolor="white", plot_bgcolor="#ebebeb",
    annotations=ann,
    showlegend=True,
    legend=dict(x=px(143), y=py(208), xanchor="left", yanchor="top",
                bgcolor="rgba(246,246,246,0.82)", bordercolor="#d0d0d0", borderwidth=1,
                font=dict(family="DejaVu Serif", size=18, color="black"), itemwidth=55,
                traceorder="grouped", tracegroupgap=5),
)

fig.write_html("out.html")
